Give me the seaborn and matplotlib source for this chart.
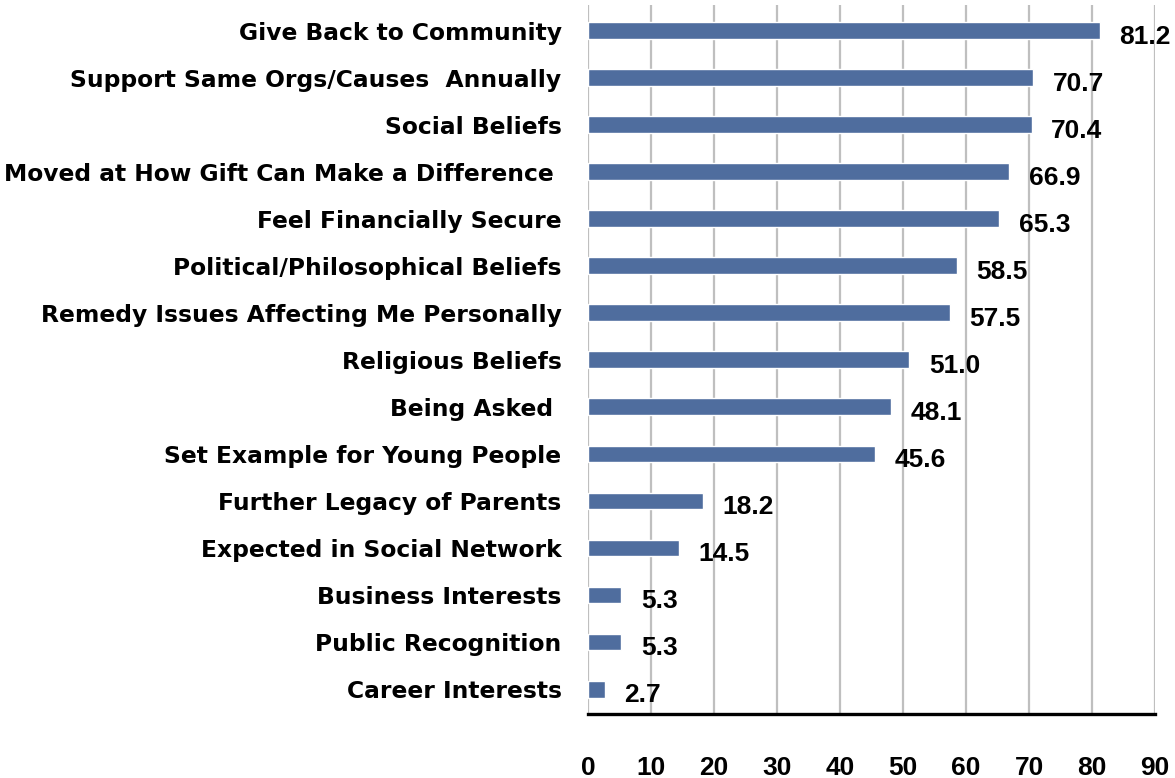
"""Horizontal bar chart: reasons for giving (percent of respondents)."""

import matplotlib

matplotlib.use("Agg")
import matplotlib.pyplot as plt
import pandas as pd
import seaborn as sns

REASONS = [
    "Give Back to Community",
    "Support Same Orgs/Causes  Annually",
    "Social Beliefs",
    "Moved at How Gift Can Make a Difference ",
    "Feel Financially Secure",
    "Political/Philosophical Beliefs",
    "Remedy Issues Affecting Me Personally",
    "Religious Beliefs",
    "Being Asked ",
    "Set Example for Young People",
    "Further Legacy of Parents",
    "Expected in Social Network",
    "Business Interests",
    "Public Recognition",
    "Career Interests",
]
PERCENT = [81.2, 70.7, 70.4, 66.9, 65.3, 58.5, 57.5, 51.0, 48.1, 45.6, 18.2, 14.5, 5.3, 5.3, 2.7]
X_TICKS = list(range(0, 91, 10))

BAR_COLOR = "#4F6D9E"
GRID_COLOR = "#BFBFBF"

sns.set_theme(style="white")
plt.rcParams["font.family"] = ["Liberation Sans", "DejaVu Sans"]
WIDE = ["DejaVu Sans"]

df = pd.DataFrame({"reason": REASONS, "percent": PERCENT})

fig = plt.figure(figsize=(11.75, 7.78), dpi=100)
ax = fig.add_axes([0.5004, 0.0823, 0.4826, 0.9113])

sns.barplot(data=df, y="reason", x="percent", orient="h", color=BAR_COLOR,
            width=0.36, saturation=1, ax=ax)

ax.set_xlim(0, 90)
ax.set_ylim(len(REASONS) - 0.47, -0.55)
ax.set_xticks(X_TICKS)
ax.xaxis.grid(True, color=GRID_COLOR, linewidth=1.6)
ax.yaxis.grid(False)
ax.set_axisbelow(True)
for side in ("top", "right", "left"):
    ax.spines[side].set_visible(False)
ax.spines["bottom"].set_color("black")
ax.spines["bottom"].set_linewidth(2.4)
ax.set_xlabel("")
ax.set_ylabel("")

ax.tick_params(axis="x", length=0, pad=30, colors="black")
ax.tick_params(axis="y", length=0, pad=19, colors="black")
for lab in ax.get_xticklabels():
    lab.set_fontsize(19)
    lab.set_fontweight("bold")
for lab in ax.get_yticklabels():
    lab.set_fontfamily(WIDE)
    lab.set_fontsize(16.8)
    lab.set_fontweight("bold")

for i, v in enumerate(PERCENT):
    ax.annotate(f"{v:.1f}", xy=(v, i), xytext=(14, -4.5), textcoords="offset points",
                ha="left", va="center", fontsize=19, fontweight="bold",
                color="black", annotation_clip=False)

fig.savefig("out.png", dpi=100)
plt.close(fig)
